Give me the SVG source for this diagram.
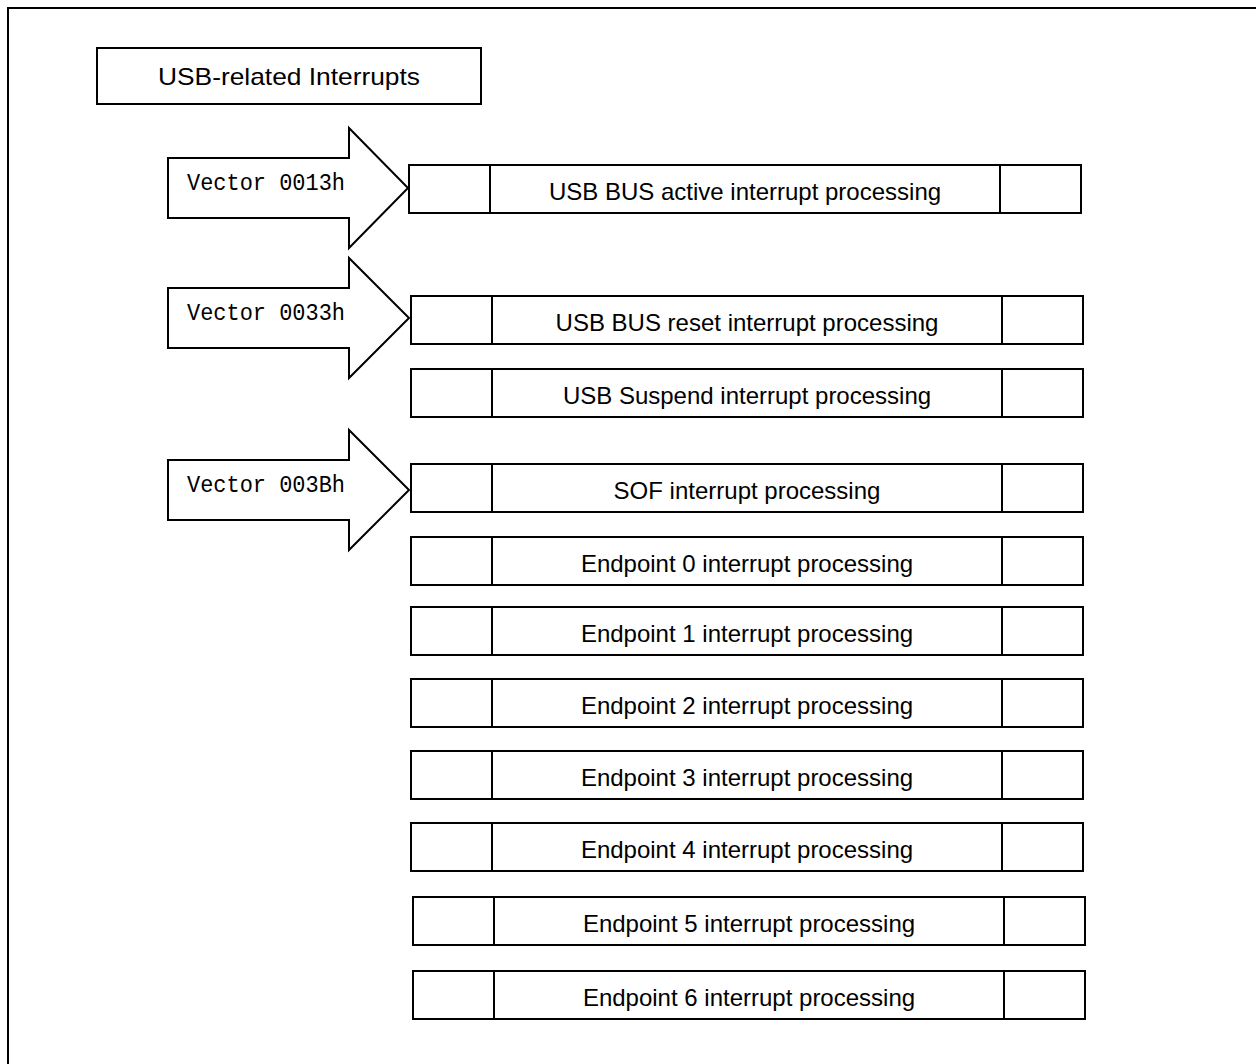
<svg xmlns="http://www.w3.org/2000/svg" width="1256" height="1064" viewBox="0 0 1256 1064">
  <style>
    .ln { fill: #ffffff; stroke: #000000; stroke-width: 2; }
    .dv { stroke: #000000; stroke-width: 2; fill: none; }
    .lbl { font-family: "Liberation Sans", Arial, sans-serif; font-size: 24px; fill: #000000; text-anchor: middle; }
    .vec { font-family: "Liberation Mono", "DejaVu Sans Mono", monospace; font-size: 24px; fill: #000000; }
  </style>
  <defs>
    <!-- one handler row: outer box with two narrow end cells -->
    <g id="row">
      <rect class="ln" x="0" y="0" width="672" height="48"/>
      <line class="dv" x1="81" y1="0" x2="81" y2="48"/>
      <line class="dv" x1="591" y1="0" x2="591" y2="48"/>
    </g>
  </defs>

  <rect x="0" y="0" width="1256" height="1064" fill="#ffffff"/>

  <!-- outer frame (open to the right and bottom) -->
  <path d="M8,1064 V8 H1256" fill="none" stroke="#000000" stroke-width="2"/>

  <g id="title">
    <rect class="ln" x="97" y="48" width="384" height="56"/>
    <text class="lbl" x="289" y="85" textLength="262" lengthAdjust="spacingAndGlyphs">USB-related Interrupts</text>
  </g>

  <!-- vector entry arrows -->
  <g id="connectors">
    <g id="vec-0013h">
      <polygon class="ln" points="168,158 349,158 349,128 408,188 349,248 349,218 168,218"/>
      <text class="vec" x="187" y="190" textLength="158" lengthAdjust="spacingAndGlyphs">Vector 0013h</text>
    </g>
    <g id="vec-0033h">
      <polygon class="ln" points="168,288 349,288 349,258 409,318 349,378 349,348 168,348"/>
      <text class="vec" x="187" y="320" textLength="158" lengthAdjust="spacingAndGlyphs">Vector 0033h</text>
    </g>
    <g id="vec-003Bh">
      <polygon class="ln" points="168,460 349,460 349,430 409,490 349,550 349,520 168,520"/>
      <text class="vec" x="187" y="492" textLength="158" lengthAdjust="spacingAndGlyphs">Vector 003Bh</text>
    </g>
  </g>

  <g id="bus-active">
    <use href="#row" x="409" y="165"/>
    <text class="lbl" x="745" y="200">USB BUS active interrupt processing</text>
  </g>
  <g id="bus-reset">
    <use href="#row" x="411" y="296"/>
    <text class="lbl" x="747" y="331">USB BUS reset interrupt processing</text>
  </g>
  <g id="suspend">
    <use href="#row" x="411" y="369"/>
    <text class="lbl" x="747" y="404">USB Suspend interrupt processing</text>
  </g>
  <g id="sof">
    <use href="#row" x="411" y="464"/>
    <text class="lbl" x="747" y="499">SOF interrupt processing</text>
  </g>
  <g id="ep0">
    <use href="#row" x="411" y="537"/>
    <text class="lbl" x="747" y="572">Endpoint 0 interrupt processing</text>
  </g>
  <g id="ep1">
    <use href="#row" x="411" y="607"/>
    <text class="lbl" x="747" y="642">Endpoint 1 interrupt processing</text>
  </g>
  <g id="ep2">
    <use href="#row" x="411" y="679"/>
    <text class="lbl" x="747" y="714">Endpoint 2 interrupt processing</text>
  </g>
  <g id="ep3">
    <use href="#row" x="411" y="751"/>
    <text class="lbl" x="747" y="786">Endpoint 3 interrupt processing</text>
  </g>
  <g id="ep4">
    <use href="#row" x="411" y="823"/>
    <text class="lbl" x="747" y="858">Endpoint 4 interrupt processing</text>
  </g>
  <g id="ep5">
    <use href="#row" x="413" y="897"/>
    <text class="lbl" x="749" y="932">Endpoint 5 interrupt processing</text>
  </g>
  <g id="ep6">
    <use href="#row" x="413" y="971"/>
    <text class="lbl" x="749" y="1006">Endpoint 6 interrupt processing</text>
  </g>
</svg>
